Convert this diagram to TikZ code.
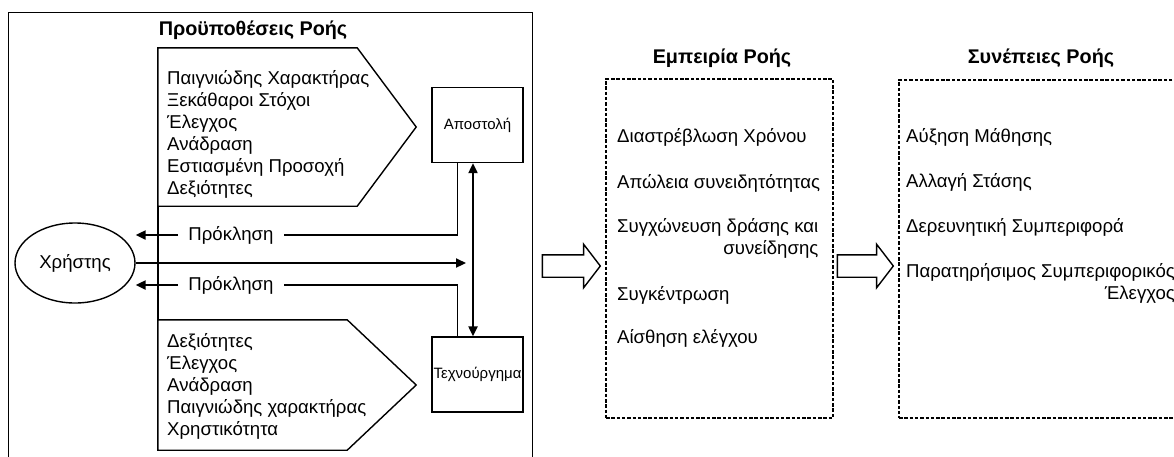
\documentclass[tikz,border=0pt]{standalone}
\usepackage{fontspec}
\setmainfont{Liberation Sans}
\usetikzlibrary{positioning, calc, arrows.meta, shapes.geometric, shapes.arrows}
\tikzset{
  > = {Triangle[length = 10pt, width = 9pt]},
  every node/.style = {font = \fontsize{18.6}{22}\selectfont},
  frame/.style = {draw, line width = 1.4pt, inner sep = 0},
  heading/.style = {font = \bfseries\fontsize{19.8}{22}\selectfont, inner sep = 0},
  list/.style = {align = left, inner sep = 0},
  twoline/.style = {align = right, inner sep = 0},
  body/.style n args = {2}{inner sep = 0, minimum width = #1, minimum height = #2},
  outline/.style = {line width = 1.4pt, line join = miter},
  stage/.style = {draw, dash pattern = on 3.5pt off 1.8pt, line width = 1.6pt, inner sep = 0},
  component/.style = {frame, font = \fontsize{15}{16}\selectfont,
    minimum width = 91pt, minimum height = 75pt},
  person/.style = {frame, ellipse, minimum width = 120pt, minimum height = 80pt},
  challenge/.style = {inner xsep = 10pt, inner ysep = 0},
  link/.style = {line width = 1.4pt},
  flow/.style = {->, line width = 2.2pt},
  block arrow/.style = {draw, single arrow, line width = 1.4pt, inner xsep = 0,
    inner ysep = 10.5pt, minimum width = 42pt, single arrow head extend = 10.5pt,
    single arrow tip angle = 105, single arrow head indent = 0pt}
}
\newcommand {\pentagon} [2] {
  \draw [outline] (#1.north west) -- (#1.north east) -- ([xshift = #2]#1.east)
    -- (#1.south east) -- (#1.south west) -- cycle;
}
\begin{document}
\begin{tikzpicture}[x = 1pt, y = -1pt]
\useasboundingbox (0,0) rectangle (1174,456);
\clip (0,0) rectangle (1174,456);

%% Conditions
\node [frame, anchor = north west, minimum width = 524pt, minimum height = 470pt] (conditions) at (8,12) {};
\node [heading] (cond title) at (253,30) {Προϋποθέσεις Ροής};

\node [body = {199pt}{158pt}] (upper) at (257.5,127) {};
\pentagon{upper}{59}
\node [list, anchor = west] (upper list) at (167,134)
  {Παιγνιώδης Χαρακτήρας\\ Ξεκάθαροι Στόχοι\\ Έλεγχος\\ Ανάδραση\\ Εστιασμένη Προσοχή\\ Δεξιότητες};

\node [body = {189pt}{130pt}] (lower) at (252.5,385) {};
\pentagon{lower}{69}
\node [list, anchor = west] (lower list) at (167,386)
  {Δεξιότητες\\ Έλεγχος\\ Ανάδραση\\ Παιγνιώδης χαρακτήρας\\ Χρηστικότητα};

\draw [outline] (upper.south west) -- (lower.north west);

%% User, mission, artifact
\node [person] (user) at (75,263) {Χρήστης};
\node [component] (mission) at (477.5,125) {Αποστολή};
\node [component] (artifact) at (477.5,374.5) {Τεχνούργημα};
\node [challenge] (chal up) at (231,235) {Πρόκληση};
\node [challenge] (chal down) at (231,285) {Πρόκληση};
\coordinate (hub) at (466,263);

\draw [link] ([xshift = -20pt]mission.south) |- (chal up.east);
\draw [flow] (chal up.west) -- (chal up.west -| user.east);
\draw [link] ([xshift = -20pt]artifact.north) |- (chal down.east);
\draw [flow] (chal down.west) -- (chal down.west -| user.east);
\draw [flow] (user) -- (hub);
\draw [flow, <->] ([xshift = -4.5pt]mission.south) -- ([xshift = -4.5pt]artifact.north);

%% Experience
\node [block arrow, minimum height = 58pt] (to experience) at (567,266) {};
\node [stage, minimum width = 227pt, minimum height = 339pt] (experience) at (719.5,248.5) {};
\node [heading] (exp title) at (722,58) {Εμπειρία Ροής};
\foreach \y/\txt [count = \i] in {137/{Διαστρέβλωση Χρόνου}, 183/{Απώλεια συνειδητότητας},
    295/{Συγκέντρωση}, 338/{Αίσθηση ελέγχου}}
  \node [list, anchor = west] (exp item \i) at (617,\y) {\txt};
\node [twoline, anchor = west] (exp merge) at (617,238) {Συγχώνευση δράσης και\\ συνείδησης};

%% Consequences
\node [block arrow, minimum height = 56pt] (to results) at (861,266) {};
\node [stage, minimum width = 291pt, minimum height = 338pt] (results) at (1044.5,249) {};
\node [heading] (res title) at (1041,58) {Συνέπειες Ροής};
\foreach \y/\txt [count = \i] in {137/{Αύξηση Μάθησης}, 182/{Αλλαγή Στάσης},
    227/{Δερευνητική Συμπεριφορά}}
  \node [list, anchor = west] (res item \i) at (906,\y) {\txt};
\node [twoline, anchor = west] (res control) at (906,283) {Παρατηρήσιμος Συμπεριφορικός\\ Έλεγχος};

\end{tikzpicture}
\end{document}
